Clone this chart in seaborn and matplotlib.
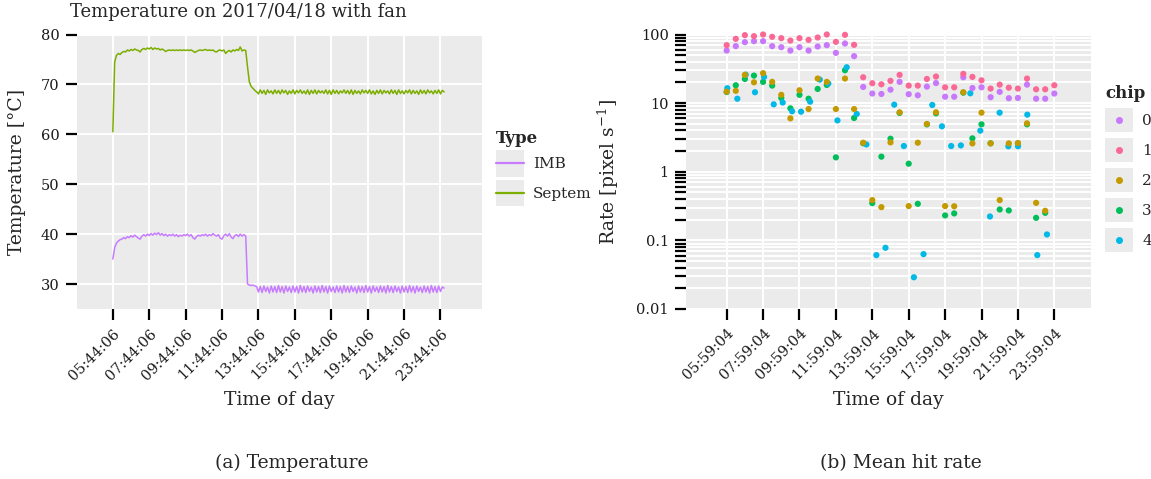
import numpy as np
import pandas as pd
import seaborn as sns
import matplotlib.pyplot as plt
from matplotlib.lines import Line2D
from matplotlib.patches import Rectangle
from matplotlib.legend_handler import HandlerBase
from matplotlib.ticker import FixedLocator, FixedFormatter, NullLocator

sns.set_theme(style="darkgrid")
plt.rcParams['font.family'] = ['DejaVu Serif']
plt.rcParams['mathtext.fontset'] = 'dejavuserif'

# ---- (a) temperature, one reading every 6 min from 05:44:06 ----
temp_start = "05:44:06"
imb_temp = [
    35.0, 37.3, 38.2, 38.6, 38.9, 39.0, 39.3, 39.1, 39.5, 39.3,
    39.7, 39.4, 39.8, 39.5, 39.2, 39.0, 39.6, 39.9, 39.6, 40.0,
    39.7, 40.1, 39.8, 40.2, 39.9, 40.3, 39.8, 40.1, 39.7, 40.0,
    39.6, 39.9, 39.7, 40.0, 39.6, 39.9, 39.5, 39.8, 39.6, 39.9,
    39.7, 40.0, 39.6, 39.9, 39.3, 39.0, 39.5, 39.8, 39.6, 39.9,
    39.7, 40.0, 39.6, 39.9, 39.7, 40.1, 39.8, 39.6, 39.9, 39.2,
    39.0, 39.7, 40.0, 39.6, 40.1, 39.4, 39.1, 39.7, 39.9, 39.5,
    40.0, 39.6, 39.9, 39.6,
    30.0, 29.8, 29.7, 29.8, 29.6, 29.5,
    28.4, 29.5, 28.3, 29.6, 28.5, 29.4, 28.2, 29.6, 28.4, 29.5,
    28.3, 29.7, 28.4, 29.5, 28.2, 29.6, 28.5, 29.4, 28.3, 29.6,
    28.4, 29.5, 28.2, 29.7, 28.4, 29.5, 28.3, 29.6, 28.5, 29.4,
    28.2, 29.6, 28.4, 29.5, 28.3, 29.7, 28.4, 29.5, 28.2, 29.6,
    28.5, 29.4, 28.3, 29.6, 28.4, 29.5, 28.2, 29.7, 28.4, 29.5,
    28.3, 29.6, 28.5, 29.4, 28.2, 29.6, 28.4, 29.5, 28.3, 29.7,
    28.4, 29.5, 28.2, 29.6, 28.5, 29.4, 28.3, 29.6, 28.4, 29.5,
    28.2, 29.7, 28.4, 29.5, 28.3, 29.6, 28.5, 29.4, 28.2, 29.6,
    28.4, 29.5, 28.3, 29.7, 28.4, 29.5, 28.2, 29.6, 28.5, 29.4,
    28.3, 29.6, 28.4, 29.5, 28.2, 29.7, 28.4, 29.5, 28.3, 29.6,
    28.5, 29.4, 29.2,
]
septem_temp = [
    60.5, 74.5, 75.8, 76.2, 76.0, 76.4, 76.6, 76.5, 76.9, 76.7,
    77.0, 76.8, 77.1, 76.9, 76.8, 76.5, 77.0, 77.2, 77.0, 77.3,
    77.1, 77.4, 77.0, 77.3, 77.1, 77.2, 76.9, 77.1, 76.9, 76.6,
    76.8, 76.9, 76.8, 76.9, 76.8, 76.9, 76.8, 76.9, 76.8, 76.9,
    76.8, 76.9, 76.8, 76.9, 76.7, 76.4, 76.6, 76.8, 76.9, 76.8,
    76.9, 77.0, 76.8, 76.9, 76.8, 76.9, 76.6, 76.5, 76.8, 76.9,
    76.7, 76.9, 76.2, 76.6, 76.8, 76.5, 76.9, 76.7, 77.0, 76.8,
    77.5, 76.7, 76.9, 76.8,
    73.5, 70.5, 69.6, 69.2, 68.8, 68.5,
    68.1, 68.9, 68.2, 68.8, 68.0, 68.9, 68.3, 68.7, 68.1, 68.9,
    68.2, 68.8, 68.1, 68.9, 68.3, 68.8, 68.0, 68.7, 68.2, 68.9,
    68.1, 68.8, 68.3, 68.9, 68.2, 68.7, 68.1, 68.9, 68.0, 68.8,
    68.2, 68.9, 68.1, 68.8, 68.3, 68.7, 68.2, 68.9, 68.1, 68.8,
    68.0, 68.9, 68.2, 68.8, 68.1, 68.7, 68.3, 68.9, 68.2, 68.8,
    68.1, 68.9, 68.0, 68.8, 68.2, 68.7, 68.1, 68.9, 68.3, 68.8,
    68.2, 68.9, 68.1, 68.7, 68.0, 68.8, 68.2, 68.9, 68.1, 68.8,
    68.3, 68.7, 68.1, 68.9, 68.2, 68.8, 68.0, 68.9, 68.2, 68.7,
    68.1, 68.8, 68.3, 68.9, 68.1, 68.8, 68.2, 68.7, 68.0, 68.9,
    68.2, 68.8, 68.1, 68.9, 68.3, 68.7, 68.1, 68.8, 68.2, 68.9,
    68.1, 68.8, 68.5,
]
temp_types = ["IMB", "Septem"]
temp_colors = ["#C77CFF", "#7CAE00"]
temp_ticklabels = ["05:44:06", "07:44:06", "09:44:06", "11:44:06", "13:44:06",
                   "15:44:06", "17:44:06", "19:44:06", "21:44:06", "23:44:06"]

# ---- (b) mean hit rate per chip, one reading every 30 min from 05:59:04 ----
rate_start = "05:59:04"
rate_chip0 = [58.4, 67.6, 77.3, 80.0, 80.0, 67.6, 65.3, 58.4, 65.3, 58.4,
              66.8, 69.9, 54.0, 74.0, 48.3, 17.2, 13.8, 13.6, 15.7, 20.4,
              13.5, 13.0, 17.4, 19.6, 12.4, 12.4, 23.8, 16.6, 17.0, 12.2,
              14.6, 11.8, 11.9, 18.6, 11.6, 11.6, 13.8]
rate_chip1 = [69.9, 86.4, 97.8, 94.6, 100.0, 92.5, 88.4, 81.6, 88.4, 83.5,
              90.4, 100.0, 78.2, 98.9, 70.7, 23.8, 19.5, 18.8, 21.1, 25.8,
              18.0, 18.0, 22.5, 24.4, 17.0, 17.0, 26.7, 24.1, 21.5, 16.3,
              18.6, 16.8, 16.3, 22.8, 15.9, 15.9, 18.2]
rate_chip2 = [14.7, 15.1, 25.8, 20.1, 27.3, 20.4, 13.2, 6.0, 15.4, 8.2,
              22.8, 20.4, 8.2, 22.8, 8.2, 2.65, 0.386, 0.305, 2.68, 7.35,
              0.316, 2.65, 4.97, 7.35, 0.316, 0.314, 14.4, 2.59, 7.26, 2.59,
              0.386, 2.59, 2.62, 5.08, 0.352, 0.270, np.nan]
rate_chip3 = [14.5, 18.2, 22.5, 25.2, 20.4, 18.0, 11.9, 8.4, 13.2, 11.6,
              16.1, 18.4, 1.62, 30.1, 6.07, 2.6, 0.349, 1.66, 3.03, 7.2,
              1.31, 0.341, 4.9, 7.1, 0.231, 0.247, 14.2, 3.07, 4.91, 2.6,
              0.282, 0.273, 2.6, 4.91, 0.213, 0.252, np.nan]
# chip 4 is read out on its own clock (hours of day)
rate_chip4_time = [6.02, 6.57, 7.03, 7.54, 8.04, 8.57, 9.06, 9.58, 10.07, 10.57,
                   11.10, 11.57, 12.07, 12.58, 13.13, 13.66, 14.21, 14.71, 15.19, 15.72,
                   16.27, 16.80, 17.28, 17.81, 18.32, 18.85, 19.37, 19.92, 20.45, 20.98,
                   21.46, 21.99, 22.50, 23.05, 23.58]
rate_chip4 = [16.5, 11.6, 26.0, 14.4, 24.1, 9.6, 10.2, 7.6, 7.5, 10.5,
              22.0, 19.3, 5.6, 33.3, 6.95, 2.5, 0.061, 0.078, 9.5, 2.37,
              0.029, 0.063, 9.4, 4.59, 2.37, 2.42, 13.9, 3.97, 0.223, 7.26,
              2.35, 2.35, 6.79, 0.061, 0.122]
chips = ["0", "1", "2", "3", "4"]
chip_colors = ["#C878FA", "#FA6996", "#C39B00", "#00BE5A", "#00B9E6"]
rate_ticklabels = ["05:59:04", "07:59:04", "09:59:04", "11:59:04", "13:59:04",
                   "15:59:04", "17:59:04", "19:59:04", "21:59:04", "23:59:04"]


def hours(s):
    h, m, sec = (int(v) for v in s.split(":"))
    return h + m / 60 + sec / 3600


t_temp = hours(temp_start) + 0.1 * np.arange(len(imb_temp))
temp = pd.concat([
    pd.DataFrame({"time": t_temp, "temp": imb_temp, "Type": "IMB"}),
    pd.DataFrame({"time": t_temp, "temp": septem_temp, "Type": "Septem"}),
])

t_rate = hours(rate_start) + 0.5 * np.arange(len(rate_chip0))
grid_chips = {"0": rate_chip0, "1": rate_chip1, "2": rate_chip2, "3": rate_chip3}
# row order = draw order (gold ends up on top, as in the original)
parts = [pd.DataFrame({"time": t_rate, "rate": grid_chips["3"], "chip": "3"}),
         pd.DataFrame({"time": rate_chip4_time, "rate": rate_chip4, "chip": "4"})]
for c in ["0", "1", "2"]:
    parts.append(pd.DataFrame({"time": t_rate, "rate": grid_chips[c], "chip": c}))
rate = pd.concat(parts).dropna()

fig = plt.figure(figsize=(11.51, 4.79), dpi=100)
W, H = 1151, 479
ax1 = fig.add_axes([76.7 / W, 1 - 309 / H, 405 / W, 274.5 / H])
ax2 = fig.add_axes([686 / W, 1 - 309 / H, 405 / W, 274.5 / H])

sns.lineplot(data=temp, x="time", y="temp", hue="Type", hue_order=temp_types,
             palette=dict(zip(temp_types, temp_colors)), lw=1.1, legend=False, ax=ax1)
sns.scatterplot(data=rate, x="time", y="rate", hue="chip", hue_order=chips,
                palette=dict(zip(chips, chip_colors)), s=20, linewidth=0,
                legend=False, clip_on=False, ax=ax2)

for ax in (ax1, ax2):
    ax.set_facecolor("#EBEBEB")
    for sp in ax.spines.values():
        sp.set_visible(False)
    ax.grid(True, which="major", color="white", lw=1.4)
    ax.set_axisbelow(True)
    ax.tick_params(axis="both", which="both", direction="out", length=8, width=1.6,
                   color="black", pad=4.5, labelsize=10.5, labelcolor="#1a1a1a",
                   bottom=True, left=True)
    ax.set_xlim(3.75, 26.0)

ax1.set_xticks([hours(s) for s in temp_ticklabels])
ax1.set_xticklabels(temp_ticklabels, rotation=45, ha="right", va="top", rotation_mode="anchor")
ax1.set_ylim(25, 80)
ax1.set_yticks([30, 40, 50, 60, 70, 80])
ax1.set_xlabel("Time of day", fontsize=13.5)
ax1.set_ylabel("Temperature [°C]", fontsize=13.5)
ax1.xaxis.set_label_coords(0.5, -0.3)
ax1.yaxis.set_label_coords(-0.125, 0.5)

ax2.set_yscale("log")
ax2.set_ylim(0.01, 100)
decades = [0.01, 0.1, 1, 10, 100]
yt, yl = [], []
for d in decades:
    for k in range(1, 10):
        if d * k <= 100:
            yt.append(d * k)
            yl.append(f"{d:g}" if k == 1 else "")
ax2.yaxis.set_major_locator(FixedLocator(yt))
ax2.yaxis.set_major_formatter(FixedFormatter(yl))
ax2.yaxis.set_minor_locator(NullLocator())
ax2.set_xticks([hours(s) for s in rate_ticklabels])
ax2.set_xticklabels(rate_ticklabels, rotation=45, ha="right", va="top", rotation_mode="anchor")
ax2.set_xlabel("Time of day", fontsize=13.5)
ax2.set_ylabel(r"Rate [pixel s$^{-1}$]", fontsize=13.5)
ax2.xaxis.set_label_coords(0.5, -0.3)
ax2.yaxis.set_label_coords(-0.16, 0.5)


class KeyHandler(HandlerBase):
    def create_artists(self, legend, orig_handle, xdescent, ydescent, width, height, fontsize, trans):
        bg = Rectangle((-xdescent, -ydescent), width, height, fc="#EBEBEB", ec="none", transform=trans)
        cy = height / 2 - ydescent
        if orig_handle.get_marker() in (None, "None", ""):
            mk = Line2D([-xdescent, width - xdescent], [cy, cy], color=orig_handle.get_color(),
                        lw=1.6, transform=trans)
        else:
            mk = Line2D([width / 2 - xdescent], [cy], color=orig_handle.get_color(), marker="o",
                        ms=4, ls="none", transform=trans)
        return [bg, mk]


h1 = [Line2D([], [], color=c) for c in temp_colors]
leg1 = fig.legend(h1, temp_types, handler_map={Line2D: KeyHandler()}, title="Type",
                  loc="upper left", bbox_to_anchor=(496 / W, 1 - 130 / H), frameon=False,
                  fontsize=11, title_fontproperties={"weight": "bold", "size": 12},
                  alignment="left", handlelength=1.83, handleheight=2.29, labelspacing=0.2,
                  handletextpad=0.6, borderpad=0, borderaxespad=0)
h2 = [Line2D([], [], color=c, marker="o", ls="none") for c in chip_colors]
leg2 = fig.legend(h2, chips, handler_map={Line2D: KeyHandler()}, title="chip",
                  loc="upper left", bbox_to_anchor=(1105 / W, 1 - 85 / H), frameon=False,
                  fontsize=11, title_fontproperties={"weight": "bold", "size": 12},
                  alignment="left", handlelength=1.83, handleheight=2.04, labelspacing=0.39,
                  handletextpad=0.6, borderpad=0, borderaxespad=0)

fig.text(70 / W, 1 - 3 / H, "Temperature on 2017/04/18 with fan", fontsize=13,
         ha="left", va="top")
fig.text(292 / W, 1 - 463 / H, "(a) Temperature", fontsize=13.5, ha="center", va="center")
fig.text(901 / W, 1 - 463 / H, "(b) Mean hit rate", fontsize=13.5, ha="center", va="center")

fig.savefig("out.png", dpi=100, facecolor="white")
